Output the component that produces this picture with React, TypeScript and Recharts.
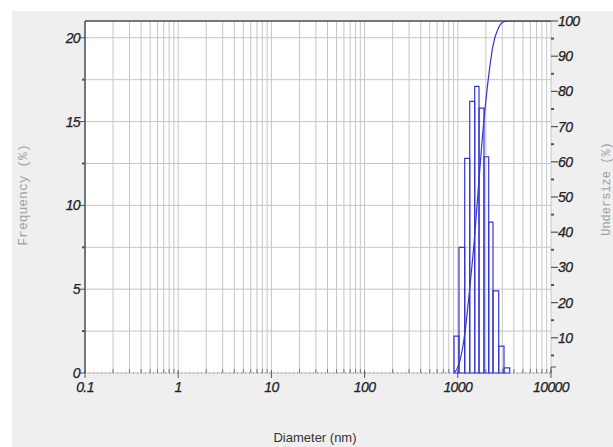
import React from 'react';
import {
  ComposedChart,
  XAxis,
  YAxis,
  CartesianGrid,
  Line,
  ReferenceArea,
  ReferenceLine,
  Label,
} from 'recharts';

// Histogram bins (diameter, nm) and frequency (%)
const binLower = [911, 1030, 1186, 1342, 1518, 1689, 1910, 2146, 2386, 2747, 3131];
const binUpper = [1030, 1186, 1342, 1518, 1689, 1910, 2146, 2386, 2747, 3131, 3606];
const frequency = [2.2, 7.5, 12.8, 16.2, 17.1, 15.8, 12.9, 9.0, 4.9, 1.6, 0.3];

// Cumulative undersize curve (%)
const undersizeDiameter = [911, 1030, 1186, 1342, 1518, 1689, 1910, 2146, 2386, 2747, 3131, 3606, 10000];
const undersizePct = [0, 2.5, 11, 24, 39, 55, 72, 84.5, 93, 98.2, 99.8, 100, 100];

// Axis ticks
const xTicks = [
  0.1, 0.2, 0.3, 0.4, 0.5, 0.6, 0.7, 0.8, 0.9,
  1, 2, 3, 4, 5, 6, 7, 8, 9,
  10, 20, 30, 40, 50, 60, 70, 80, 90,
  100, 200, 300, 400, 500, 600, 700, 800, 900,
  1000, 2000, 3000, 4000, 5000, 6000, 7000, 8000, 9000,
  10000,
];
const xMajor = [0.1, 1, 10, 100, 1000, 10000];
const freqTicks = [0, 2.5, 5, 7.5, 10, 12.5, 15, 17.5, 20];
const freqMajor = [0, 5, 10, 15, 20];
const undersizeTicks = [0, 5, 10, 15, 20, 25, 30, 35, 40, 45, 50, 55, 60, 65, 70, 75, 80, 85, 90, 95, 100];
const undersizeMajor = [10, 20, 30, 40, 50, 60, 70, 80, 90, 100];

const undersizeData = undersizeDiameter.map((d, i) => ({ d, u: undersizePct[i] }));

const BLUE = '#3636d2';
const AXIS = '#555';
const tickFont = {
  fontFamily: '"Liberation Sans", Arial, sans-serif',
  fontSize: 14,
  fontStyle: 'italic' as const,
  letterSpacing: -0.6,
  fill: '#222',
  stroke: '#222',
  strokeWidth: 0.25,
};

const XTick = (props: any) => {
  const { x, y, payload } = props;
  const v = payload.value;
  const major = xMajor.some((m) => Math.abs(m - v) < 1e-9);
  return (
    <g>
      {major ? (
        <line x1={x} x2={x} y1={y - 3} y2={y + 5} stroke={AXIS} strokeWidth={1} />
      ) : (
        <line x1={x} x2={x} y1={y - 4} y2={y} stroke="#777" strokeWidth={1} />
      )}
      {major && (
        <text x={x} y={y + 19} textAnchor="middle" {...tickFont}>
          {String(v)}
        </text>
      )}
    </g>
  );
};

const LeftTick = (props: any) => {
  const { x, y, payload } = props;
  const v = payload.value;
  const major = freqMajor.includes(v);
  return (
    <g>
      <line x1={x - (major ? 5 : 3)} x2={x} y1={y} y2={y} stroke={AXIS} strokeWidth={major ? 1 : 2} />
      {major && (
        <text x={x - 5} y={y + 5} textAnchor="end" {...tickFont}>
          {String(v)}
        </text>
      )}
    </g>
  );
};

const RightTick = (props: any) => {
  const { x, y, payload } = props;
  const v = payload.value;
  const major = undersizeMajor.includes(v);
  if (v === 0) {
    return (
      <g>
        <line x1={x} x2={x} y1={y} y2={y - 6} stroke={AXIS} strokeWidth={1} />
        <line x1={x} x2={x + 5} y1={y - 6} y2={y - 6} stroke={AXIS} strokeWidth={1} />
      </g>
    );
  }
  return (
    <g>
      <line x1={x} x2={x + (major ? 7 : 3)} y1={y} y2={y} stroke={AXIS} strokeWidth={major ? 1.2 : 2} />
      {major && (
        <text x={x + 7} y={y + 5} textAnchor="start" {...tickFont}>
          {String(v)}
        </text>
      )}
    </g>
  );
};

const monoTitle = {
  fontFamily: '"Liberation Mono", "Courier New", monospace',
  fontSize: 13,
  fill: '#a0a0a0',
};

const LeftTitle = (props: any) => {
  const vb = props.viewBox || {};
  const cx = vb.x - 2;
  const cy = vb.y + vb.height / 2 - 2;
  return (
    <text x={cx} y={cy} textAnchor="middle" dominantBaseline="central" transform={`rotate(-90, ${cx}, ${cy})`} {...monoTitle}>
      Frequency (%)
    </text>
  );
};

const RightTitle = (props: any) => {
  const vb = props.viewBox || {};
  const cx = vb.x + vb.width + 16;
  const cy = vb.y + vb.height / 2 - 8;
  return (
    <text x={cx} y={cy} textAnchor="middle" dominantBaseline="central" transform={`rotate(-90, ${cx}, ${cy})`} {...monoTitle} fontSize={12}>
      Undersize (%)
    </text>
  );
};

const BottomTitle = (props: any) => {
  const vb = props.viewBox || {};
  const cx = vb.x + vb.width / 2 - 3;
  return (
    <text x={cx} y={442} textAnchor="middle" fontFamily='"Liberation Sans", Arial, sans-serif' fontSize={13} fill="#333">
      Diameter (nm)
    </text>
  );
};

export default function App() {
  return (
    <div style={{ position: 'absolute', left: 0, top: 0, width: 613, height: 447, background: '#fff' }}>
      <div style={{ position: 'absolute', left: 12, top: 11, right: 0, bottom: 0, background: '#efefef' }} />
      <div style={{ position: 'absolute', left: 0, top: 0 }}>
        <ComposedChart width={613} height={447} margin={{ top: 21, right: 22, bottom: 44, left: 25 }}>
          <CartesianGrid
            yAxisId="left"
            stroke="#c6c6c6"
            strokeWidth={1}
            fill="#ffffff"
            fillOpacity={1}
          />
          <XAxis
            dataKey="d"
            type="number"
            scale="log"
            domain={[0.1, 10000]}
            allowDataOverflow
            ticks={xTicks}
            interval={0}
            tickSize={0}
            tickMargin={0}
            tick={<XTick />}
            height={30}
            axisLine={{ stroke: '#7a7ac8', strokeDasharray: '1 3' }}
          >
            <Label content={<BottomTitle />} />
          </XAxis>
          <YAxis
            yAxisId="left"
            type="number"
            domain={[0, 21]}
            allowDataOverflow
            ticks={freqTicks}
            interval={0}
            tickSize={0}
            tickMargin={0}
            tick={<LeftTick />}
            width={60}
            axisLine={{ stroke: AXIS, strokeWidth: 1.5 }}
          >
            <Label content={<LeftTitle />} />
          </YAxis>
          <YAxis
            yAxisId="right"
            orientation="right"
            type="number"
            domain={[0, 100]}
            allowDataOverflow
            ticks={undersizeTicks}
            interval={0}
            tickSize={0}
            tickMargin={0}
            tick={<RightTick />}
            width={40}
            axisLine={false}
          >
            <Label content={<RightTitle />} />
          </YAxis>
          <ReferenceLine yAxisId="left" y={21} stroke={AXIS} strokeWidth={1.5} ifOverflow="visible" />
          {frequency.map((f, i) => (
            <ReferenceArea
              key={i}
              yAxisId="left"
              x1={binLower[i]}
              x2={binUpper[i]}
              y1={0}
              y2={f}
              fill="none"
              stroke={BLUE}
              strokeWidth={1.2}
              ifOverflow="visible"
            />
          ))}
          <Line
            data={undersizeData}
            yAxisId="right"
            dataKey="u"
            type="monotone"
            dot={false}
            activeDot={false}
            stroke={BLUE}
            strokeWidth={1.2}
            isAnimationActive={false}
          />
        </ComposedChart>
      </div>
    </div>
  );
}
